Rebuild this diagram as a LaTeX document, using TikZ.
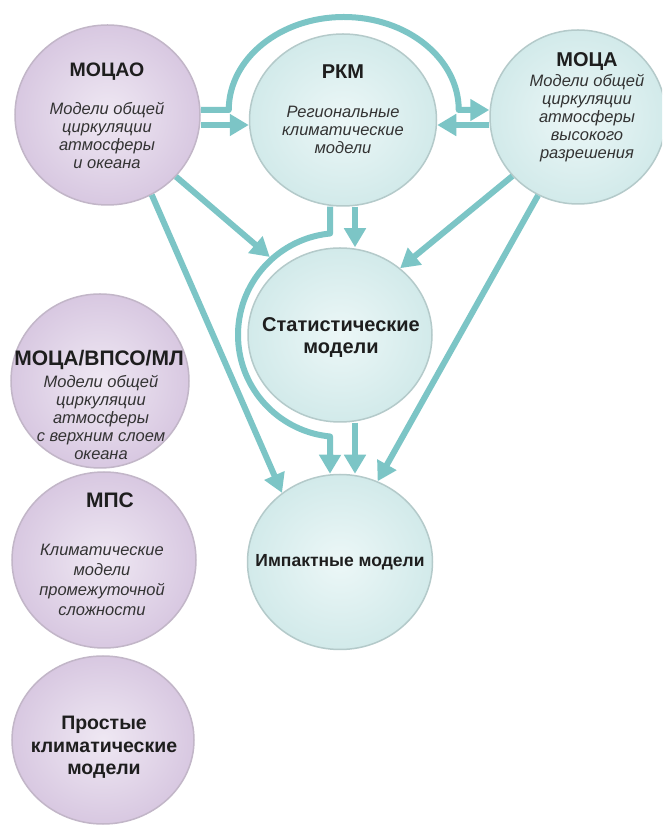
\documentclass[tikz,border=0pt]{standalone}
\usepackage{fontspec}
\setmainfont{Liberation Sans}
\usetikzlibrary{arrows.meta,shapes.geometric}

\definecolor{arrowc}{HTML}{7CC5C6}
\definecolor{purpin}{HTML}{EFE8F3}
\definecolor{purpout}{HTML}{D8C8E1}
\definecolor{purpedge}{HTML}{C2B6C8}
\definecolor{cyanin}{HTML}{ECF7F7}
\definecolor{cyanout}{HTML}{D2EAEA}
\definecolor{cyanedge}{HTML}{B4CACA}
\definecolor{txtc}{HTML}{1E1E1E}
\definecolor{bodyc}{HTML}{333333}

\tikzset{
  purpball/.style={ellipse, draw=purpedge, line width=1.5pt, inner color=purpin, outer color=purpout, inner sep=0pt},
  cyanball/.style={ellipse, draw=cyanedge, line width=1.5pt, inner color=cyanin, outer color=cyanout, inner sep=0pt},
  ttl/.style={font=\fontsize{20}{23}\selectfont\bfseries, align=center, text=txtc, inner sep=0pt},
  bodytxt/.style={font=\fontsize{16.5}{18}\selectfont\itshape, align=center, text=bodyc, inner sep=0pt},
  arr/.style={draw=arrowc, line width=6pt, line join=round, -{Triangle[length=19pt,width=21pt]}},
}

\begin{document}
\begin{tikzpicture}[x=1pt,y=1pt]
\clip (0,0) rectangle (662,827);
\fill[white] (0,0) rectangle (662,827);

% circles
\node[purpball, minimum width=185pt, minimum height=180pt] (moctao) at (107.5,712) {};
\node[cyanball, minimum width=187pt, minimum height=172pt] (rkm) at (343,707) {};
\node[cyanball, minimum width=176pt, minimum height=174pt] (moca) at (578,710) {};
\node[cyanball, minimum width=184pt, minimum height=174pt] (stat) at (340,492) {};
\node[cyanball, minimum width=185pt, minimum height=175pt] (impact) at (340,265) {};
\node[purpball, minimum width=178pt, minimum height=174pt] (vpso) at (100,446) {};
\node[purpball, minimum width=184pt, minimum height=176pt] (mps) at (104,267) {};
\node[purpball, minimum width=182pt, minimum height=168pt] (prost) at (103,87) {};

% texts
\node[ttl, font=\fontsize{19.5}{23}\selectfont\bfseries] (moctaoT) at (107,755) {МОЦАО};
\node[bodytxt] (moctaoB) at (107,692) {Модели общей\\циркуляции\\атмосферы\\и океана};
\node[ttl] (rkmT) at (343,755) {РКМ};
\node[bodytxt] (rkmB) at (343,697) {Региональные\\климатические\\модели};
\node[ttl] (mocaT) at (587,765) {МОЦА};
\node[bodytxt] (mocaB) at (587,709) {Модели общей\\циркуляции\\атмосферы\\высокого\\разрешения};
\node[ttl, font=\fontsize{20}{22}\selectfont\bfseries] (statT) at (341,489) {Статистические\\модели};
\node[ttl, font=\fontsize{17.5}{22}\selectfont\bfseries] (impactT) at (340,265) {Импактные модели};
\node[ttl, font=\fontsize{21}{23}\selectfont\bfseries] (vpsoT) at (99,467) {МОЦА/ВПСО/МЛ};
\node[bodytxt] (vpsoB) at (101,409.5) {Модели общей\\циркуляции\\атмосферы\\с верхним слоем\\океана};
\node[ttl, font=\fontsize{21}{23}\selectfont\bfseries] (mpsT) at (110,327) {МПС};
\node[bodytxt, font=\fontsize{16.5}{20}\selectfont\itshape] (mpsB) at (102,247) {Климатические\\модели\\промежуточной\\сложности};
\node[ttl, font=\fontsize{19.5}{22.5}\selectfont\bfseries] (prostT) at (104,79.5) {Простые\\климатические\\модели};

% connectors
\draw[arr] ([yshift=5pt]moctao.east) -- ++(28pt,0)
  arc[start angle=180, end angle=0, x radius=115pt, y radius=93pt]
  -- ([yshift=7pt]moca.west);
\draw[arr] ([yshift=-10pt]moctao.east) -- ([yshift=-5pt]rkm.west);
\draw[arr] ([yshift=-8pt]moca.west) -- ([yshift=-5pt]rkm.east);
\draw[arr] ([xshift=12pt]rkm.south) -- ([xshift=15pt]stat.north);
\draw[arr] ([xshift=-13pt]rkm.south) -- ([shift={(95.6:102pt)}]stat.center)
  arc[start angle=95.6, end angle=264.4, radius=102pt]
  -- ([xshift=-10pt]impact.north);
\draw[arr] (moctao.-42) -- ([shift={(132:105pt)}]stat.center);
\draw[arr] (moctao.-61) -- (impact.130);
\draw[arr] (moca.222) -- (stat.48);
\draw[arr] (moca.243) -- (impact.65);
\draw[arr] ([xshift=15pt]stat.south) -- ([xshift=15pt]impact.north);
\end{tikzpicture}
\end{document}
